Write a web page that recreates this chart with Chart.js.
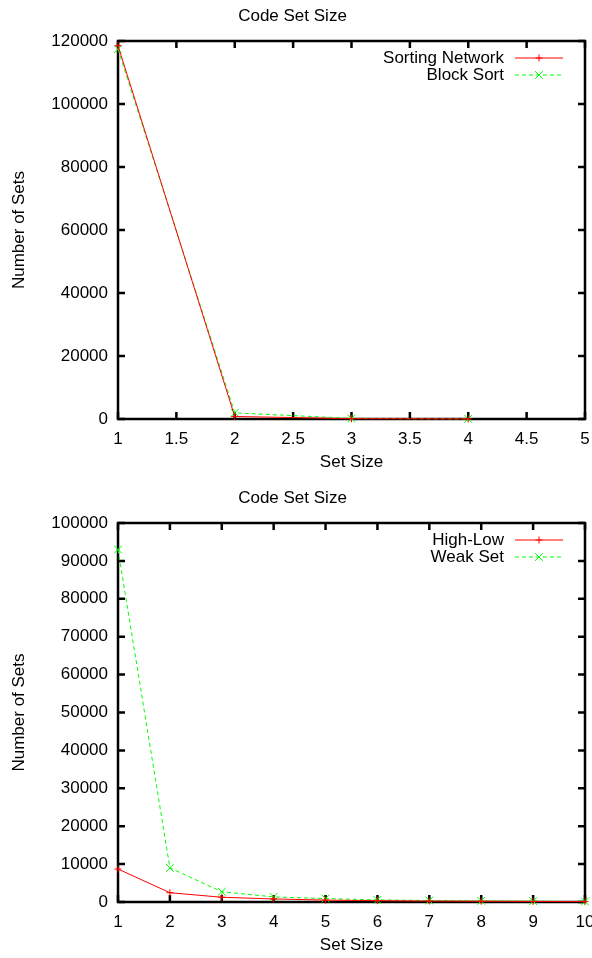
<!DOCTYPE html>
<html lang="en">
<head>
    <meta charset="UTF-8">
    <title>Code Set Size</title>
    <style>
        body {
            margin: 0;
            padding: 0;
            background: #fff;
            width: 592px;
            height: 958px;
            overflow: hidden;
            position: relative;
        }
        canvas {
            position: absolute;
            left: 0;
        }
        #topChart { top: 0; }
        #bottomChart { top: 482px; }
    </style>
</head>
<body>
    <canvas id="topChart" width="592" height="482"></canvas>
    <canvas id="bottomChart" width="592" height="476"></canvas>

    <script src="https://cdn.jsdelivr.net/npm/chart.js"></script>
    <script>
        // first plot: sorting network vs block sort
        const sizesA = [1, 2, 3, 4];
        const sortingNetwork = [118500, 800, 100, 20];
        const blockSort = [117400, 1950, 200, 40];
        const xTicksA = [1, 1.5, 2, 2.5, 3, 3.5, 4, 4.5, 5];
        const yTicksA = [0, 20000, 40000, 60000, 80000, 100000, 120000];

        // second plot: high-low vs weak set
        const sizesB = [1, 2, 3, 4, 5, 6, 7, 8, 9, 10];
        const highLow = [8700, 2450, 1250, 800, 500, 350, 250, 200, 150, 100];
        const weakSet = [93000, 9000, 2700, 1350, 900, 550, 400, 300, 220, 150];
        const xTicksB = [1, 2, 3, 4, 5, 6, 7, 8, 9, 10];
        const yTicksB = [0, 10000, 20000, 30000, 40000, 50000, 60000, 70000, 80000, 90000, 100000];

        const FONT = '"Liberation Sans", Arial, sans-serif';
        const FS = 17;
        const LH = FS * 1.2;
        Chart.defaults.font.family = FONT;
        Chart.defaults.font.size = FS;
        Chart.defaults.color = '#000';

        // gnuplot-ish frame with inward ticks on all four sides
        const framePlugin = {
            id: 'frame',
            beforeDatasetsDraw(chart) {
                const { ctx, chartArea: a, scales } = chart;
                const len = 7;
                ctx.save();
                ctx.strokeStyle = '#000';
                ctx.lineWidth = 2.5;
                ctx.beginPath();
                scales.x.ticks.forEach(t => {
                    const px = scales.x.getPixelForValue(t.value);
                    ctx.moveTo(px, a.bottom); ctx.lineTo(px, a.bottom - len);
                    ctx.moveTo(px, a.top); ctx.lineTo(px, a.top + len);
                });
                scales.y.ticks.forEach(t => {
                    const py = scales.y.getPixelForValue(t.value);
                    ctx.moveTo(a.left, py); ctx.lineTo(a.left + len, py);
                    ctx.moveTo(a.right, py); ctx.lineTo(a.right - len, py);
                });
                ctx.stroke();
                ctx.strokeRect(a.left, a.top, a.right - a.left, a.bottom - a.top);
                ctx.restore();
            }
        };

        // key in the top right corner: label, then line sample with marker
        const keyPlugin = {
            id: 'key',
            afterDraw(chart) {
                const { ctx, chartArea: a } = chart;
                ctx.save();
                chart.data.datasets.forEach((ds, i) => {
                    const y = a.top + 17 + i * 17;
                    ctx.font = FS + 'px ' + FONT;
                    ctx.fillStyle = '#000';
                    ctx.textAlign = 'right';
                    ctx.textBaseline = 'middle';
                    ctx.fillText(ds.label, a.right - 81, y);
                    ctx.strokeStyle = ds.borderColor;
                    ctx.lineWidth = 1;
                    ctx.setLineDash(ds.borderDash || []);
                    ctx.beginPath();
                    ctx.moveTo(a.right - 70, y);
                    ctx.lineTo(a.right - 22, y);
                    ctx.stroke();
                    ctx.setLineDash([]);
                    Chart.helpers.drawPoint(ctx, {
                        pointStyle: ds.pointStyle,
                        radius: ds.pointRadius,
                        borderWidth: 1
                    }, a.right - 46, y);
                });
                ctx.restore();
            }
        };

        function series(label, xs, ys, color, dashed, style, radius) {
            return {
                label: label,
                data: xs.map((x, i) => ({ x: x, y: ys[i] })),
                borderColor: color,
                backgroundColor: color,
                borderWidth: 1,
                borderDash: dashed ? [4, 3] : [],
                pointStyle: style,
                pointRadius: radius,
                pointBorderWidth: 1,
                pointHoverRadius: radius,
                tension: 0,
                clip: false
            };
        }

        function makeChart(id, datasets, xTicks, yTicks, opts) {
            return new Chart(document.getElementById(id), {
                type: 'line',
                data: { datasets: datasets },
                options: {
                    responsive: false,
                    animation: false,
                    devicePixelRatio: 1,
                    layout: { padding: { left: 0, right: 7, top: 0, bottom: 0 } },
                    plugins: {
                        legend: { display: false },
                        tooltip: { enabled: false },
                        title: {
                            display: true,
                            text: 'Code Set Size',
                            font: { size: FS, weight: 'normal' },
                            color: '#000',
                            padding: { top: opts.titleTop, bottom: 41 - opts.titleTop - LH }
                        }
                    },
                    scales: {
                        x: {
                            type: 'linear',
                            min: xTicks[0],
                            max: xTicks[xTicks.length - 1],
                            grid: { display: false, drawTicks: false },
                            border: { display: false },
                            ticks: { padding: 10, maxRotation: 0, autoSkip: false, callback: v => String(v) },
                            title: { display: true, text: 'Set Size', font: { size: FS }, padding: { top: 0, bottom: opts.xTitlePad } },
                            afterBuildTicks: s => { s.ticks = xTicks.map(v => ({ value: v })); },
                            afterFit: s => { s.height = opts.xHeight; s.paddingLeft = 0; s.paddingRight = 0; }
                        },
                        y: {
                            min: yTicks[0],
                            max: yTicks[yTicks.length - 1],
                            grid: { display: false, drawTicks: false },
                            border: { display: false },
                            ticks: { padding: 10, autoSkip: false, callback: v => String(v) },
                            title: { display: true, text: 'Number of Sets', font: { size: FS }, padding: { top: 8.8, bottom: 0 } },
                            afterBuildTicks: s => { s.ticks = yTicks.map(v => ({ value: v })); },
                            afterFit: s => { s.width = 118; s.paddingTop = 0; s.paddingBottom = 0; }
                        }
                    }
                },
                plugins: [framePlugin, keyPlugin]
            });
        }

        makeChart('topChart', [
            series('Sorting Network', sizesA, sortingNetwork, '#ff0000', false, 'cross', 3.5),
            series('Block Sort', sizesA, blockSort, '#00ff00', true, 'crossRot', 5.5)
        ], xTicksA, yTicksA, { titleTop: 5.8, xHeight: 63, xTitlePad: 9.8 });

        makeChart('bottomChart', [
            series('High-Low', sizesB, highLow, '#ff0000', false, 'cross', 3.5),
            series('Weak Set', sizesB, weakSet, '#00ff00', true, 'crossRot', 5.5)
        ], xTicksB, yTicksB, { titleTop: 5.8, xHeight: 56, xTitlePad: 2.8 });
    </script>
</body>
</html>
